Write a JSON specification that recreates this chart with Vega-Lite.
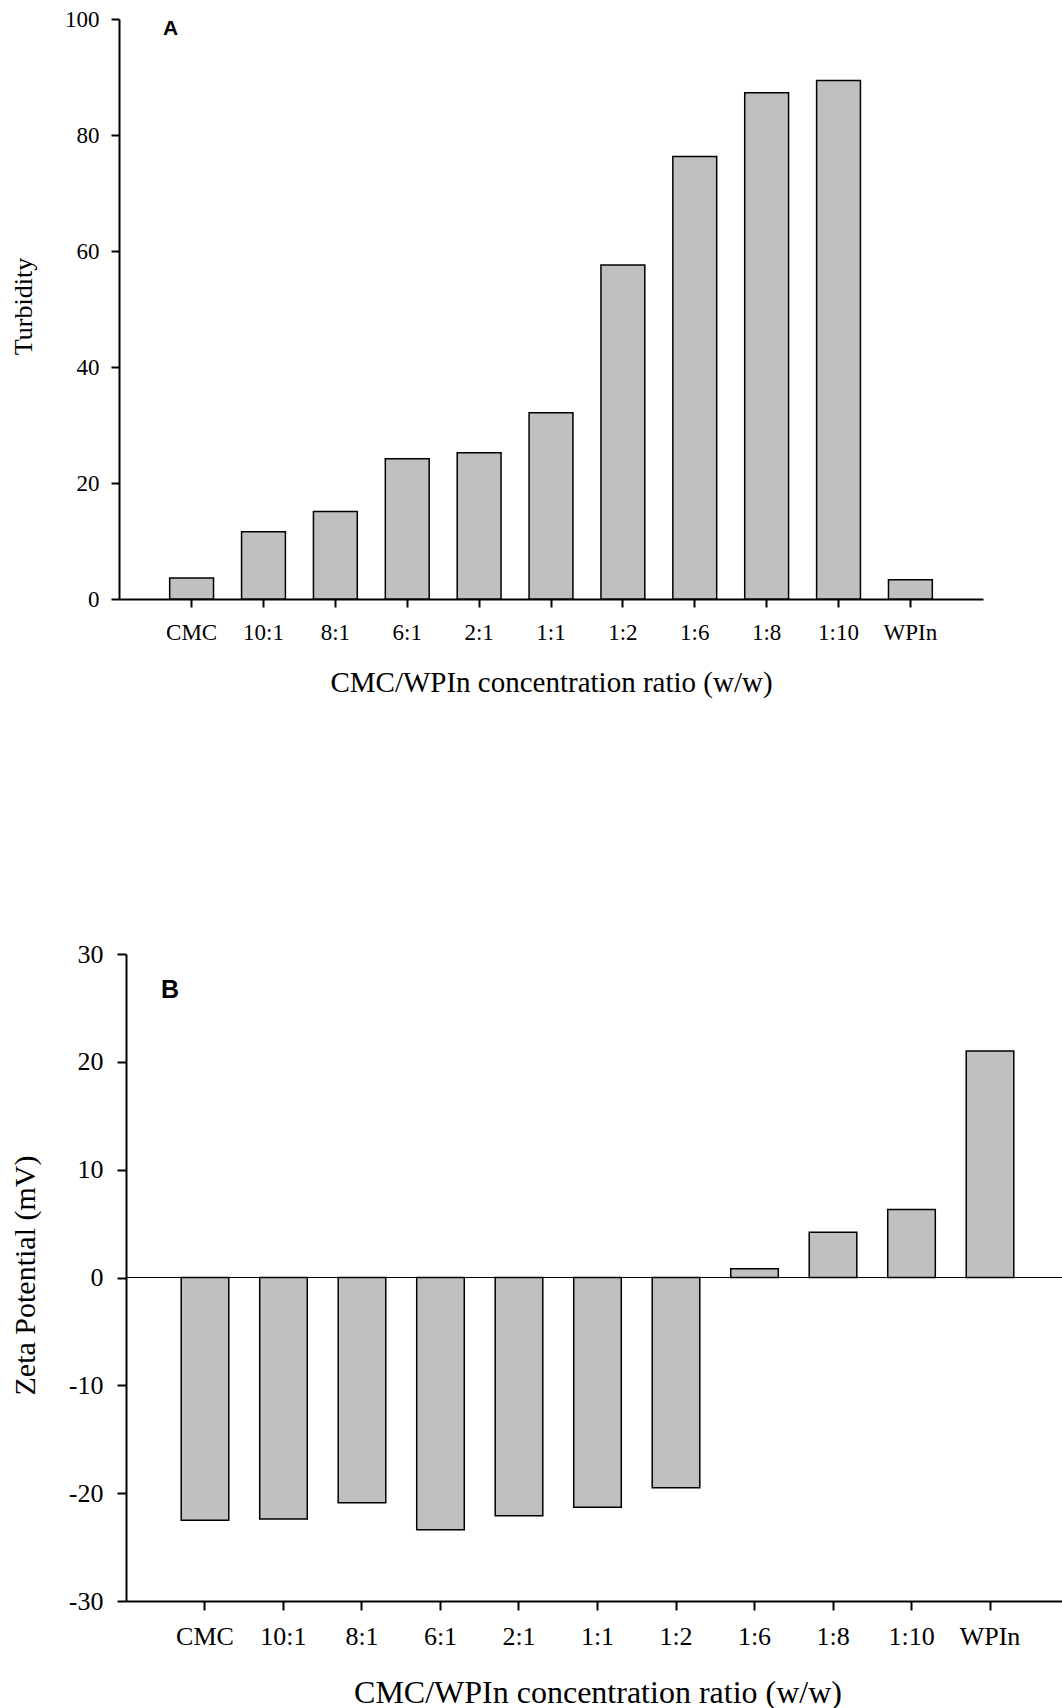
{
  "$schema": "https://vega.github.io/schema/vega-lite/v6.json",
  "background": "white",
  "padding": {"left": 10, "top": 8, "right": 0, "bottom": 0},
  "spacing": 243,
  "config": {
    "view": {"stroke": null},
    "axis": {
      "labelFont": "Liberation Serif",
      "titleFont": "Liberation Serif",
      "labelColor": "black",
      "titleColor": "black",
      "domainColor": "black",
      "tickColor": "black",
      "titleFontWeight": "normal",
      "grid": false,
      "domainWidth": 2,
      "tickWidth": 2,
      "labelOverlap": false,
      "labelBound": false,
      "labelFlush": false
    }
  },
  "datasets": {
    "turbidity": [
      {"ratio": "CMC", "turbidity": 3.6},
      {"ratio": "10:1", "turbidity": 11.6},
      {"ratio": "8:1", "turbidity": 15.1},
      {"ratio": "6:1", "turbidity": 24.2},
      {"ratio": "2:1", "turbidity": 25.2},
      {"ratio": "1:1", "turbidity": 32.1},
      {"ratio": "1:2", "turbidity": 57.6},
      {"ratio": "1:6", "turbidity": 76.3},
      {"ratio": "1:8", "turbidity": 87.3},
      {"ratio": "1:10", "turbidity": 89.4},
      {"ratio": "WPIn", "turbidity": 3.3}
    ],
    "zeta": [
      {"ratio": "CMC", "zeta": -22.5},
      {"ratio": "10:1", "zeta": -22.4},
      {"ratio": "8:1", "zeta": -20.9},
      {"ratio": "6:1", "zeta": -23.4},
      {"ratio": "2:1", "zeta": -22.1},
      {"ratio": "1:1", "zeta": -21.3},
      {"ratio": "1:2", "zeta": -19.5},
      {"ratio": "1:6", "zeta": 0.8},
      {"ratio": "1:8", "zeta": 4.2},
      {"ratio": "1:10", "zeta": 6.3},
      {"ratio": "WPIn", "zeta": 21.0}
    ]
  },
  "vconcat": [
    {
      "width": 857,
      "height": 580,
      "layer": [
        {
          "data": {"name": "turbidity"},
          "mark": {"type": "bar", "fill": "#c0c0c0", "stroke": "black", "strokeWidth": 1.5},
          "encoding": {
            "x": {
              "field": "ratio",
              "type": "nominal",
              "sort": null,
              "scale": {
                "domain": ["CMC", "10:1", "8:1", "6:1", "2:1", "1:1", "1:2", "1:6", "1:8", "1:10", "WPIn"],
                "range": [-7, 857],
                "paddingInner": 0.39,
                "paddingOuter": 0.705
              },
              "axis": {
                "title": "CMC/WPIn concentration ratio (w/w)",
                "labelFont": "Liberation Serif",
                "titleFont": "Liberation Serif",
                "labelAngle": 0,
                "labelFontSize": 23,
                "titleFontSize": 29,
                "tickSize": 8,
                "labelPadding": 14.5,
                "titlePadding": 24
              }
            },
            "y": {
              "field": "turbidity",
              "type": "quantitative",
              "scale": {"domain": [0, 100], "nice": false},
              "axis": {
                "title": "Turbidity",
                "labelFont": "Liberation Serif",
                "titleFont": "Liberation Serif",
                "offset": 7,
                "values": [0, 20, 40, 60, 80, 100],
                "tickSize": 8,
                "labelPadding": 12,
                "labelFontSize": 23,
                "titleFontSize": 26,
                "titleX": -83,
                "titleY": 287
              }
            }
          }
        },
        {
          "data": {"values": [{"panel": "A"}]},
          "mark": {"type": "text", "font": "Liberation Sans", "fontWeight": "bold", "fontSize": 21, "baseline": "top", "align": "center", "dx": -21, "dy": -1.5, "color": "black"},
          "encoding": {
            "text": {"field": "panel"},
            "x": {"datum": "CMC"},
            "y": {"datum": 100}
          }
        }
      ]
    },
    {
      "width": 943,
      "height": 647,
      "layer": [
        {
          "data": {"values": [{"zero": 0}]},
          "mark": {"type": "rule", "color": "black", "strokeWidth": 1.2},
          "encoding": {"y": {"field": "zero", "type": "quantitative"}}
        },
        {
          "data": {"name": "zeta"},
          "mark": {"type": "bar", "fill": "#c0c0c0", "stroke": "black", "strokeWidth": 1.5},
          "encoding": {
            "x": {
              "field": "ratio",
              "type": "nominal",
              "sort": null,
              "scale": {
                "domain": ["CMC", "10:1", "8:1", "6:1", "2:1", "1:1", "1:2", "1:6", "1:8", "1:10", "WPIn"],
                "paddingInner": 0.394,
                "paddingOuter": 0.703
              },
              "axis": {
                "title": "CMC/WPIn concentration ratio (w/w)",
                "labelFont": "Liberation Serif",
                "titleFont": "Liberation Serif",
                "labelAngle": 0,
                "labelFontSize": 26,
                "titleFontSize": 32,
                "tickSize": 9,
                "labelPadding": 13,
                "titlePadding": 28.7
              }
            },
            "y": {
              "field": "zeta",
              "type": "quantitative",
              "scale": {"domain": [-30, 30], "nice": false},
              "axis": {
                "title": "Zeta Potential (mV)",
                "labelFont": "Liberation Serif",
                "titleFont": "Liberation Serif",
                "values": [-30, -20, -10, 0, 10, 20, 30],
                "labelExpr": "replace(datum.label, '\u2212', '-')",
                "tickSize": 9,
                "labelPadding": 14,
                "labelFontSize": 26,
                "titleFontSize": 30,
                "titleX": -86,
                "titleY": 321
              }
            }
          }
        },
        {
          "data": {"values": [{"panel": "B"}]},
          "mark": {"type": "text", "font": "Liberation Sans", "fontWeight": "bold", "fontSize": 25, "baseline": "top", "align": "center", "dx": -35, "dy": -1.5, "color": "black"},
          "encoding": {
            "text": {"field": "panel"},
            "x": {"datum": "CMC"},
            "y": {"datum": 27.68}
          }
        }
      ]
    }
  ]
}
